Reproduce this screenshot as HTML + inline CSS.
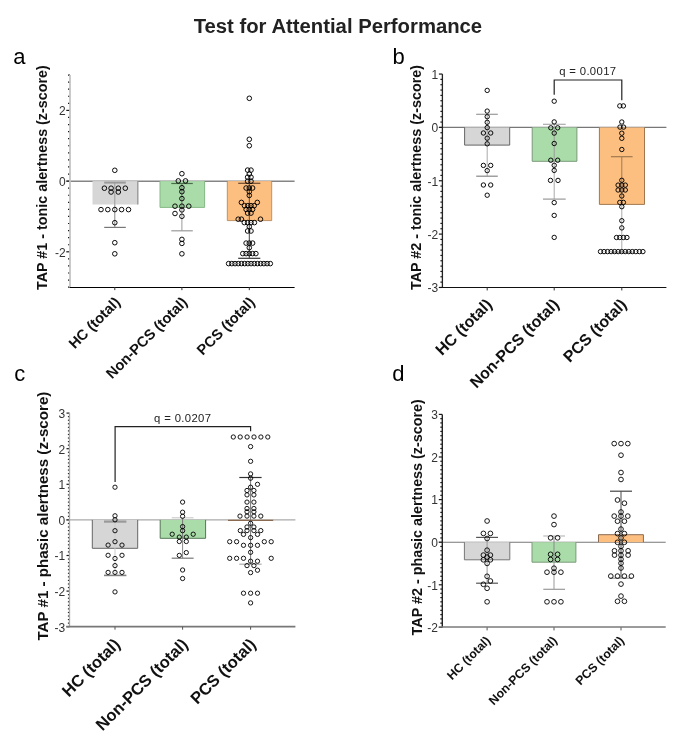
<!DOCTYPE html>
<html><head><meta charset="utf-8"><title>Test for Attential Performance</title><style>html,body{margin:0;padding:0;background:#fff;}svg{display:block;will-change:transform;}text{font-family:"Liberation Sans", sans-serif;}</style></head><body>
<svg width="685" height="751" viewBox="0 0 685 751" font-family='"Liberation Sans", sans-serif'>
<rect width="685" height="751" fill="#fff"/>
<text x="337.9" y="32.6" font-size="20.3" font-weight="bold" text-anchor="middle" fill="#222" >Test for Attential Performance</text>
<text x="13.3" y="63.5" font-size="22" font-weight="normal" text-anchor="start" fill="#000" >a</text>
<text x="392.5" y="63.8" font-size="22" font-weight="normal" text-anchor="start" fill="#000" >b</text>
<text x="14.2" y="380.8" font-size="22" font-weight="normal" text-anchor="start" fill="#000" >c</text>
<text x="392.2" y="380.6" font-size="22" font-weight="normal" text-anchor="start" fill="#000" >d</text>
<line x1="66.5" y1="181.25" x2="294.6" y2="181.25" stroke="#858585" stroke-width="1.3"/>
<rect x="92.5" y="181.1" width="45.3" height="23.4" fill="#d6d6d6" stroke="none" stroke-width="0"/>
<line x1="137.8" y1="181.1" x2="137.8" y2="204.5" stroke="#9a9a9a" stroke-width="1.4"/>
<line x1="114.8" y1="182.6" x2="114.8" y2="204.5" stroke="#9a9a9a" stroke-width="1.0"/>
<line x1="114.8" y1="204.5" x2="114.8" y2="227.4" stroke="#888" stroke-width="1.0"/>
<line x1="104.2" y1="182.6" x2="125.8" y2="182.6" stroke="#9a9a9a" stroke-width="2.0"/>
<line x1="104.2" y1="227.4" x2="125.8" y2="227.4" stroke="#777" stroke-width="1.2"/>
<circle cx="114.8" cy="170.3" r="2.3" fill="none" stroke="#000" stroke-width="0.95"/>
<circle cx="104.4" cy="188.2" r="2.3" fill="none" stroke="#000" stroke-width="0.95"/>
<circle cx="111.1" cy="188.2" r="2.3" fill="none" stroke="#000" stroke-width="0.95"/>
<circle cx="118.3" cy="188.2" r="2.3" fill="none" stroke="#000" stroke-width="0.95"/>
<circle cx="125.3" cy="188.2" r="2.3" fill="none" stroke="#000" stroke-width="0.95"/>
<circle cx="111.1" cy="192" r="2.3" fill="none" stroke="#000" stroke-width="0.95"/>
<circle cx="118.3" cy="192" r="2.3" fill="none" stroke="#000" stroke-width="0.95"/>
<circle cx="101" cy="209.6" r="2.3" fill="none" stroke="#000" stroke-width="0.95"/>
<circle cx="107.8" cy="209.6" r="2.3" fill="none" stroke="#000" stroke-width="0.95"/>
<circle cx="114.8" cy="209.6" r="2.3" fill="none" stroke="#000" stroke-width="0.95"/>
<circle cx="121.6" cy="209.6" r="2.3" fill="none" stroke="#000" stroke-width="0.95"/>
<circle cx="128.5" cy="209.6" r="2.3" fill="none" stroke="#000" stroke-width="0.95"/>
<circle cx="114.8" cy="222.7" r="2.3" fill="none" stroke="#000" stroke-width="0.95"/>
<circle cx="114.8" cy="242.7" r="2.3" fill="none" stroke="#000" stroke-width="0.95"/>
<circle cx="114.8" cy="253.8" r="2.3" fill="none" stroke="#000" stroke-width="0.95"/>
<rect x="160" y="181.1" width="44.6" height="26.3" fill="#aadcaa" stroke="none" stroke-width="0"/>
<line x1="160" y1="181.1" x2="160" y2="207.4" stroke="#86b886" stroke-width="1.0"/>
<line x1="204.6" y1="181.1" x2="204.6" y2="207.4" stroke="#86b886" stroke-width="1.0"/>
<line x1="160" y1="207.4" x2="204.6" y2="207.4" stroke="#86b886" stroke-width="1.0"/>
<line x1="181.9" y1="183.5" x2="181.9" y2="207.4" stroke="#777" stroke-width="1.0"/>
<line x1="181.9" y1="207.4" x2="181.9" y2="230.8" stroke="#9a9a9a" stroke-width="1.0"/>
<line x1="171.3" y1="183.5" x2="192.8" y2="183.5" stroke="#4a6e4a" stroke-width="1.2"/>
<line x1="171.3" y1="230.8" x2="192.8" y2="230.8" stroke="#9a9a9a" stroke-width="1.2"/>
<circle cx="181.9" cy="173.7" r="2.3" fill="none" stroke="#000" stroke-width="0.95"/>
<circle cx="178.3" cy="180.9" r="2.3" fill="none" stroke="#000" stroke-width="0.95"/>
<circle cx="185.5" cy="180.9" r="2.3" fill="none" stroke="#000" stroke-width="0.95"/>
<circle cx="181.9" cy="187.7" r="2.3" fill="none" stroke="#000" stroke-width="0.95"/>
<circle cx="181.9" cy="191.7" r="2.3" fill="none" stroke="#000" stroke-width="0.95"/>
<circle cx="181.9" cy="198.6" r="2.3" fill="none" stroke="#000" stroke-width="0.95"/>
<circle cx="175" cy="206.2" r="2.3" fill="none" stroke="#000" stroke-width="0.95"/>
<circle cx="181.9" cy="206.2" r="2.3" fill="none" stroke="#000" stroke-width="0.95"/>
<circle cx="188.8" cy="206.2" r="2.3" fill="none" stroke="#000" stroke-width="0.95"/>
<circle cx="181.9" cy="209.9" r="2.3" fill="none" stroke="#000" stroke-width="0.95"/>
<circle cx="175" cy="213.5" r="2.3" fill="none" stroke="#000" stroke-width="0.95"/>
<circle cx="181.9" cy="216.3" r="2.3" fill="none" stroke="#000" stroke-width="0.95"/>
<circle cx="181.9" cy="239.4" r="2.3" fill="none" stroke="#000" stroke-width="0.95"/>
<circle cx="181.9" cy="243.4" r="2.3" fill="none" stroke="#000" stroke-width="0.95"/>
<circle cx="181.9" cy="253.8" r="2.3" fill="none" stroke="#000" stroke-width="0.95"/>
<rect x="227.3" y="181.1" width="44.4" height="39.5" fill="#fdbf80" stroke="none" stroke-width="0"/>
<line x1="227.3" y1="181.1" x2="227.3" y2="220.6" stroke="#b08050" stroke-width="0.8"/>
<line x1="271.7" y1="181.1" x2="271.7" y2="220.6" stroke="#b08050" stroke-width="0.8"/>
<line x1="227.3" y1="220.6" x2="271.7" y2="220.6" stroke="#b08050" stroke-width="0.8"/>
<line x1="249.3" y1="183.3" x2="249.3" y2="220.6" stroke="#6b4a30" stroke-width="1.0"/>
<line x1="249.3" y1="220.6" x2="249.3" y2="258.3" stroke="#444" stroke-width="1.0"/>
<line x1="238.2" y1="183.3" x2="260.3" y2="183.3" stroke="#6b4a30" stroke-width="1.2"/>
<line x1="238.2" y1="258.3" x2="260.3" y2="258.3" stroke="#333" stroke-width="1.2"/>
<circle cx="249.3" cy="98.3" r="2.3" fill="none" stroke="#000" stroke-width="0.95"/>
<circle cx="249.3" cy="139.3" r="2.3" fill="none" stroke="#000" stroke-width="0.95"/>
<circle cx="249.3" cy="145.7" r="2.3" fill="none" stroke="#000" stroke-width="0.95"/>
<circle cx="247.6" cy="170.1" r="2.3" fill="none" stroke="#000" stroke-width="0.95"/>
<circle cx="251" cy="170.1" r="2.3" fill="none" stroke="#000" stroke-width="0.95"/>
<circle cx="249.3" cy="174" r="2.3" fill="none" stroke="#000" stroke-width="0.95"/>
<circle cx="247.6" cy="177.2" r="2.3" fill="none" stroke="#000" stroke-width="0.95"/>
<circle cx="251" cy="177.2" r="2.3" fill="none" stroke="#000" stroke-width="0.95"/>
<circle cx="247.6" cy="181.2" r="2.3" fill="none" stroke="#000" stroke-width="0.95"/>
<circle cx="251" cy="181.2" r="2.3" fill="none" stroke="#000" stroke-width="0.95"/>
<circle cx="246.1" cy="188" r="2.3" fill="none" stroke="#000" stroke-width="0.95"/>
<circle cx="249.3" cy="188" r="2.3" fill="none" stroke="#000" stroke-width="0.95"/>
<circle cx="252.6" cy="188" r="2.3" fill="none" stroke="#000" stroke-width="0.95"/>
<circle cx="249.3" cy="191.7" r="2.3" fill="none" stroke="#000" stroke-width="0.95"/>
<circle cx="249.3" cy="195.4" r="2.3" fill="none" stroke="#000" stroke-width="0.95"/>
<circle cx="241.4" cy="202.4" r="2.3" fill="none" stroke="#000" stroke-width="0.95"/>
<circle cx="257.3" cy="202.4" r="2.3" fill="none" stroke="#000" stroke-width="0.95"/>
<circle cx="244.5" cy="205.7" r="2.3" fill="none" stroke="#000" stroke-width="0.95"/>
<circle cx="247.8" cy="205.7" r="2.3" fill="none" stroke="#000" stroke-width="0.95"/>
<circle cx="251" cy="205.7" r="2.3" fill="none" stroke="#000" stroke-width="0.95"/>
<circle cx="254.2" cy="205.7" r="2.3" fill="none" stroke="#000" stroke-width="0.95"/>
<circle cx="246.1" cy="209.4" r="2.3" fill="none" stroke="#000" stroke-width="0.95"/>
<circle cx="249.3" cy="209.4" r="2.3" fill="none" stroke="#000" stroke-width="0.95"/>
<circle cx="252.6" cy="209.4" r="2.3" fill="none" stroke="#000" stroke-width="0.95"/>
<circle cx="247.6" cy="213.1" r="2.3" fill="none" stroke="#000" stroke-width="0.95"/>
<circle cx="251" cy="213.1" r="2.3" fill="none" stroke="#000" stroke-width="0.95"/>
<circle cx="238.2" cy="219.2" r="2.3" fill="none" stroke="#000" stroke-width="0.95"/>
<circle cx="241.4" cy="219.2" r="2.3" fill="none" stroke="#000" stroke-width="0.95"/>
<circle cx="260.5" cy="219.2" r="2.3" fill="none" stroke="#000" stroke-width="0.95"/>
<circle cx="244.3" cy="222.6" r="2.3" fill="none" stroke="#000" stroke-width="0.95"/>
<circle cx="247.6" cy="222.6" r="2.3" fill="none" stroke="#000" stroke-width="0.95"/>
<circle cx="251" cy="222.6" r="2.3" fill="none" stroke="#000" stroke-width="0.95"/>
<circle cx="254.4" cy="222.6" r="2.3" fill="none" stroke="#000" stroke-width="0.95"/>
<circle cx="249.3" cy="226.6" r="2.3" fill="none" stroke="#000" stroke-width="0.95"/>
<circle cx="247.6" cy="231" r="2.3" fill="none" stroke="#000" stroke-width="0.95"/>
<circle cx="251" cy="231" r="2.3" fill="none" stroke="#000" stroke-width="0.95"/>
<circle cx="246.1" cy="243.1" r="2.3" fill="none" stroke="#000" stroke-width="0.95"/>
<circle cx="249.3" cy="243.1" r="2.3" fill="none" stroke="#000" stroke-width="0.95"/>
<circle cx="252.6" cy="243.1" r="2.3" fill="none" stroke="#000" stroke-width="0.95"/>
<circle cx="249.3" cy="247.7" r="2.3" fill="none" stroke="#000" stroke-width="0.95"/>
<circle cx="242.8" cy="253.6" r="2.3" fill="none" stroke="#000" stroke-width="0.95"/>
<circle cx="246.1" cy="253.6" r="2.3" fill="none" stroke="#000" stroke-width="0.95"/>
<circle cx="249.3" cy="253.6" r="2.3" fill="none" stroke="#000" stroke-width="0.95"/>
<circle cx="252.6" cy="253.6" r="2.3" fill="none" stroke="#000" stroke-width="0.95"/>
<circle cx="255.9" cy="253.6" r="2.3" fill="none" stroke="#000" stroke-width="0.95"/>
<circle cx="228.6" cy="263.6" r="2.3" fill="none" stroke="#000" stroke-width="0.95"/>
<circle cx="231.81" cy="263.6" r="2.3" fill="none" stroke="#000" stroke-width="0.95"/>
<circle cx="235.02" cy="263.6" r="2.3" fill="none" stroke="#000" stroke-width="0.95"/>
<circle cx="238.22" cy="263.6" r="2.3" fill="none" stroke="#000" stroke-width="0.95"/>
<circle cx="241.43" cy="263.6" r="2.3" fill="none" stroke="#000" stroke-width="0.95"/>
<circle cx="244.64" cy="263.6" r="2.3" fill="none" stroke="#000" stroke-width="0.95"/>
<circle cx="247.85" cy="263.6" r="2.3" fill="none" stroke="#000" stroke-width="0.95"/>
<circle cx="251.05" cy="263.6" r="2.3" fill="none" stroke="#000" stroke-width="0.95"/>
<circle cx="254.26" cy="263.6" r="2.3" fill="none" stroke="#000" stroke-width="0.95"/>
<circle cx="257.47" cy="263.6" r="2.3" fill="none" stroke="#000" stroke-width="0.95"/>
<circle cx="260.68" cy="263.6" r="2.3" fill="none" stroke="#000" stroke-width="0.95"/>
<circle cx="263.88" cy="263.6" r="2.3" fill="none" stroke="#000" stroke-width="0.95"/>
<circle cx="267.09" cy="263.6" r="2.3" fill="none" stroke="#000" stroke-width="0.95"/>
<circle cx="270.3" cy="263.6" r="2.3" fill="none" stroke="#000" stroke-width="0.95"/>
<line x1="68" y1="287.15" x2="70" y2="287.15" stroke="#1a1a1a" stroke-width="1.2"/>
<line x1="68" y1="280.08" x2="70" y2="280.08" stroke="#1a1a1a" stroke-width="1.2"/>
<line x1="68" y1="273.01" x2="70" y2="273.01" stroke="#1a1a1a" stroke-width="1.2"/>
<line x1="68" y1="265.94" x2="70" y2="265.94" stroke="#1a1a1a" stroke-width="1.2"/>
<line x1="68" y1="258.87" x2="70" y2="258.87" stroke="#1a1a1a" stroke-width="1.2"/>
<line x1="66.3" y1="251.8" x2="70" y2="251.8" stroke="#1a1a1a" stroke-width="1.2"/>
<line x1="68" y1="244.73" x2="70" y2="244.73" stroke="#1a1a1a" stroke-width="1.2"/>
<line x1="68" y1="237.66" x2="70" y2="237.66" stroke="#1a1a1a" stroke-width="1.2"/>
<line x1="68" y1="230.59" x2="70" y2="230.59" stroke="#1a1a1a" stroke-width="1.2"/>
<line x1="68" y1="223.52" x2="70" y2="223.52" stroke="#1a1a1a" stroke-width="1.2"/>
<line x1="68" y1="216.45" x2="70" y2="216.45" stroke="#1a1a1a" stroke-width="1.2"/>
<line x1="68" y1="209.38" x2="70" y2="209.38" stroke="#1a1a1a" stroke-width="1.2"/>
<line x1="68" y1="202.31" x2="70" y2="202.31" stroke="#1a1a1a" stroke-width="1.2"/>
<line x1="68" y1="195.24" x2="70" y2="195.24" stroke="#1a1a1a" stroke-width="1.2"/>
<line x1="68" y1="188.17" x2="70" y2="188.17" stroke="#1a1a1a" stroke-width="1.2"/>
<line x1="66.3" y1="181.1" x2="70" y2="181.1" stroke="#1a1a1a" stroke-width="1.2"/>
<line x1="68" y1="174.03" x2="70" y2="174.03" stroke="#1a1a1a" stroke-width="1.2"/>
<line x1="68" y1="166.96" x2="70" y2="166.96" stroke="#1a1a1a" stroke-width="1.2"/>
<line x1="68" y1="159.89" x2="70" y2="159.89" stroke="#1a1a1a" stroke-width="1.2"/>
<line x1="68" y1="152.82" x2="70" y2="152.82" stroke="#1a1a1a" stroke-width="1.2"/>
<line x1="68" y1="145.75" x2="70" y2="145.75" stroke="#1a1a1a" stroke-width="1.2"/>
<line x1="68" y1="138.68" x2="70" y2="138.68" stroke="#1a1a1a" stroke-width="1.2"/>
<line x1="68" y1="131.61" x2="70" y2="131.61" stroke="#1a1a1a" stroke-width="1.2"/>
<line x1="68" y1="124.54" x2="70" y2="124.54" stroke="#1a1a1a" stroke-width="1.2"/>
<line x1="68" y1="117.47" x2="70" y2="117.47" stroke="#1a1a1a" stroke-width="1.2"/>
<line x1="66.3" y1="110.4" x2="70" y2="110.4" stroke="#1a1a1a" stroke-width="1.2"/>
<line x1="68" y1="103.33" x2="70" y2="103.33" stroke="#1a1a1a" stroke-width="1.2"/>
<line x1="68" y1="96.26" x2="70" y2="96.26" stroke="#1a1a1a" stroke-width="1.2"/>
<line x1="68" y1="89.19" x2="70" y2="89.19" stroke="#1a1a1a" stroke-width="1.2"/>
<line x1="68" y1="82.12" x2="70" y2="82.12" stroke="#1a1a1a" stroke-width="1.2"/>
<line x1="68" y1="75.05" x2="70" y2="75.05" stroke="#1a1a1a" stroke-width="1.2"/>
<line x1="70" y1="75.05" x2="70" y2="287.15" stroke="#c4c4c4" stroke-width="1.8"/>
<text x="65.7" y="115.2" font-size="12" font-weight="normal" text-anchor="end" fill="#333" >2</text>
<text x="65.7" y="185.9" font-size="12" font-weight="normal" text-anchor="end" fill="#333" >0</text>
<text x="65.7" y="256.6" font-size="12" font-weight="normal" text-anchor="end" fill="#333" >-2</text>
<line x1="70" y1="287.5" x2="294.6" y2="287.5" stroke="#000" stroke-width="1.1"/>
<line x1="114.8" y1="287.15" x2="114.8" y2="290.15" stroke="#333" stroke-width="1"/>
<line x1="181.9" y1="287.15" x2="181.9" y2="290.15" stroke="#333" stroke-width="1"/>
<line x1="249.3" y1="287.15" x2="249.3" y2="290.15" stroke="#333" stroke-width="1"/>
<text transform="translate(46.9,177.6) rotate(-90)" font-size="14.33" font-weight="bold" text-anchor="middle" fill="#111">TAP #1 - tonic alertness (z-score)</text>
<text transform="translate(121.1,303.15) rotate(-45)" font-size="14.6" font-weight="bold" text-anchor="end" fill="#111">HC (total)</text>
<text transform="translate(188.2,303.15) rotate(-45)" font-size="14.6" font-weight="bold" text-anchor="end" fill="#111">Non-PCS (total)</text>
<text transform="translate(255.6,303.15) rotate(-45)" font-size="14.6" font-weight="bold" text-anchor="end" fill="#111">PCS (total)</text>
<line x1="438.9" y1="127.4" x2="666.4" y2="127.4" stroke="#777" stroke-width="1.1"/>
<rect x="464.6" y="127.4" width="45.1" height="17.7" fill="#d6d6d6" stroke="none" stroke-width="0"/>
<line x1="464.6" y1="127.4" x2="464.6" y2="145.1" stroke="#666" stroke-width="1.0"/>
<line x1="509.7" y1="127.4" x2="509.7" y2="145.1" stroke="#666" stroke-width="1.0"/>
<line x1="464.6" y1="145.1" x2="509.7" y2="145.1" stroke="#666" stroke-width="1.0"/>
<line x1="487.2" y1="114.3" x2="487.2" y2="145.1" stroke="#999" stroke-width="1.0"/>
<line x1="487.2" y1="145.1" x2="487.2" y2="176.2" stroke="#aaa" stroke-width="1.0"/>
<line x1="476.2" y1="114.3" x2="497.8" y2="114.3" stroke="#999" stroke-width="1.2"/>
<line x1="476.2" y1="176.2" x2="497.8" y2="176.2" stroke="#888" stroke-width="1.2"/>
<circle cx="487.2" cy="90.4" r="2.2" fill="none" stroke="#000" stroke-width="0.95"/>
<circle cx="487.2" cy="111.1" r="2.2" fill="none" stroke="#000" stroke-width="0.95"/>
<circle cx="487.2" cy="116.7" r="2.2" fill="none" stroke="#000" stroke-width="0.95"/>
<circle cx="487.2" cy="122.3" r="2.2" fill="none" stroke="#000" stroke-width="0.95"/>
<circle cx="487.2" cy="127.6" r="2.2" fill="none" stroke="#000" stroke-width="0.95"/>
<circle cx="483.4" cy="133" r="2.2" fill="none" stroke="#000" stroke-width="0.95"/>
<circle cx="490.7" cy="133" r="2.2" fill="none" stroke="#000" stroke-width="0.95"/>
<circle cx="487.2" cy="138.2" r="2.2" fill="none" stroke="#000" stroke-width="0.95"/>
<circle cx="487.2" cy="143.8" r="2.2" fill="none" stroke="#000" stroke-width="0.95"/>
<circle cx="483.4" cy="165.4" r="2.2" fill="none" stroke="#000" stroke-width="0.95"/>
<circle cx="490.7" cy="165.4" r="2.2" fill="none" stroke="#000" stroke-width="0.95"/>
<circle cx="487.2" cy="170.6" r="2.2" fill="none" stroke="#000" stroke-width="0.95"/>
<circle cx="483.4" cy="185" r="2.2" fill="none" stroke="#000" stroke-width="0.95"/>
<circle cx="490.7" cy="185" r="2.2" fill="none" stroke="#000" stroke-width="0.95"/>
<circle cx="487.2" cy="195.2" r="2.2" fill="none" stroke="#000" stroke-width="0.95"/>
<rect x="532.2" y="127.4" width="44.7" height="33.9" fill="#aadcaa" stroke="none" stroke-width="0"/>
<line x1="532.2" y1="127.4" x2="532.2" y2="161.3" stroke="#7a9a7a" stroke-width="1.0"/>
<line x1="576.9" y1="127.4" x2="576.9" y2="161.3" stroke="#7a9a7a" stroke-width="1.0"/>
<line x1="532.2" y1="161.3" x2="576.9" y2="161.3" stroke="#7a9a7a" stroke-width="1.0"/>
<line x1="554.2" y1="124.3" x2="554.2" y2="161.3" stroke="#999" stroke-width="1.0"/>
<line x1="554.2" y1="161.3" x2="554.2" y2="199.1" stroke="#aaa" stroke-width="1.0"/>
<line x1="543" y1="124.3" x2="565.7" y2="124.3" stroke="#aaa" stroke-width="1.2"/>
<line x1="543" y1="199.1" x2="565.7" y2="199.1" stroke="#999" stroke-width="1.2"/>
<circle cx="554.2" cy="101.2" r="2.2" fill="none" stroke="#000" stroke-width="0.95"/>
<circle cx="554.2" cy="121.9" r="2.2" fill="none" stroke="#000" stroke-width="0.95"/>
<circle cx="550.8" cy="127.8" r="2.2" fill="none" stroke="#000" stroke-width="0.95"/>
<circle cx="557.7" cy="127.8" r="2.2" fill="none" stroke="#000" stroke-width="0.95"/>
<circle cx="554.2" cy="133.1" r="2.2" fill="none" stroke="#000" stroke-width="0.95"/>
<circle cx="554.2" cy="143.5" r="2.2" fill="none" stroke="#000" stroke-width="0.95"/>
<circle cx="550.8" cy="160.2" r="2.2" fill="none" stroke="#000" stroke-width="0.95"/>
<circle cx="557.7" cy="160.2" r="2.2" fill="none" stroke="#000" stroke-width="0.95"/>
<circle cx="554.2" cy="165.3" r="2.2" fill="none" stroke="#000" stroke-width="0.95"/>
<circle cx="554.2" cy="170.4" r="2.2" fill="none" stroke="#000" stroke-width="0.95"/>
<circle cx="550.5" cy="180.4" r="2.2" fill="none" stroke="#000" stroke-width="0.95"/>
<circle cx="558" cy="180.4" r="2.2" fill="none" stroke="#000" stroke-width="0.95"/>
<circle cx="554.2" cy="202.6" r="2.2" fill="none" stroke="#000" stroke-width="0.95"/>
<circle cx="554.2" cy="215.4" r="2.2" fill="none" stroke="#000" stroke-width="0.95"/>
<circle cx="554.2" cy="237.4" r="2.2" fill="none" stroke="#000" stroke-width="0.95"/>
<rect x="599.4" y="127.4" width="45.1" height="77" fill="#fdbf80" stroke="none" stroke-width="0"/>
<line x1="599.4" y1="127.4" x2="599.4" y2="204.4" stroke="#a07850" stroke-width="1.0"/>
<line x1="644.5" y1="127.4" x2="644.5" y2="204.4" stroke="#a07850" stroke-width="1.0"/>
<line x1="599.4" y1="204.4" x2="644.5" y2="204.4" stroke="#a07850" stroke-width="1.0"/>
<line x1="621.8" y1="156.7" x2="621.8" y2="204.4" stroke="#a07850" stroke-width="1.0"/>
<line x1="621.8" y1="204.4" x2="621.8" y2="252.1" stroke="#aaa" stroke-width="1.0"/>
<line x1="610.9" y1="156.7" x2="632.6" y2="156.7" stroke="#a07850" stroke-width="1.2"/>
<line x1="610.9" y1="252.1" x2="632.6" y2="252.1" stroke="#999" stroke-width="1.2"/>
<circle cx="619.8" cy="105.9" r="2.2" fill="none" stroke="#000" stroke-width="0.95"/>
<circle cx="623.4" cy="105.9" r="2.2" fill="none" stroke="#000" stroke-width="0.95"/>
<circle cx="621.8" cy="122" r="2.2" fill="none" stroke="#000" stroke-width="0.95"/>
<circle cx="620" cy="127.1" r="2.2" fill="none" stroke="#000" stroke-width="0.95"/>
<circle cx="623.6" cy="127.1" r="2.2" fill="none" stroke="#000" stroke-width="0.95"/>
<circle cx="621.8" cy="133.2" r="2.2" fill="none" stroke="#000" stroke-width="0.95"/>
<circle cx="621.8" cy="138.3" r="2.2" fill="none" stroke="#000" stroke-width="0.95"/>
<circle cx="621.8" cy="149.5" r="2.2" fill="none" stroke="#000" stroke-width="0.95"/>
<circle cx="621.8" cy="180.3" r="2.2" fill="none" stroke="#000" stroke-width="0.95"/>
<circle cx="618.1" cy="185.1" r="2.2" fill="none" stroke="#000" stroke-width="0.95"/>
<circle cx="621.8" cy="185.1" r="2.2" fill="none" stroke="#000" stroke-width="0.95"/>
<circle cx="625.3" cy="185.1" r="2.2" fill="none" stroke="#000" stroke-width="0.95"/>
<circle cx="618.1" cy="190" r="2.2" fill="none" stroke="#000" stroke-width="0.95"/>
<circle cx="621.8" cy="190" r="2.2" fill="none" stroke="#000" stroke-width="0.95"/>
<circle cx="625.3" cy="190" r="2.2" fill="none" stroke="#000" stroke-width="0.95"/>
<circle cx="621.8" cy="196" r="2.2" fill="none" stroke="#000" stroke-width="0.95"/>
<circle cx="619.8" cy="202.4" r="2.2" fill="none" stroke="#000" stroke-width="0.95"/>
<circle cx="623.4" cy="202.4" r="2.2" fill="none" stroke="#000" stroke-width="0.95"/>
<circle cx="621.8" cy="206.7" r="2.2" fill="none" stroke="#000" stroke-width="0.95"/>
<circle cx="621.8" cy="220.7" r="2.2" fill="none" stroke="#000" stroke-width="0.95"/>
<circle cx="621.8" cy="227.9" r="2.2" fill="none" stroke="#000" stroke-width="0.95"/>
<circle cx="616.5" cy="237.5" r="2.2" fill="none" stroke="#000" stroke-width="0.95"/>
<circle cx="619.8" cy="237.5" r="2.2" fill="none" stroke="#000" stroke-width="0.95"/>
<circle cx="623.4" cy="237.5" r="2.2" fill="none" stroke="#000" stroke-width="0.95"/>
<circle cx="626.9" cy="237.5" r="2.2" fill="none" stroke="#000" stroke-width="0.95"/>
<circle cx="600.5" cy="251.6" r="2.2" fill="none" stroke="#000" stroke-width="0.95"/>
<circle cx="604.03" cy="251.6" r="2.2" fill="none" stroke="#000" stroke-width="0.95"/>
<circle cx="607.57" cy="251.6" r="2.2" fill="none" stroke="#000" stroke-width="0.95"/>
<circle cx="611.1" cy="251.6" r="2.2" fill="none" stroke="#000" stroke-width="0.95"/>
<circle cx="614.63" cy="251.6" r="2.2" fill="none" stroke="#000" stroke-width="0.95"/>
<circle cx="618.17" cy="251.6" r="2.2" fill="none" stroke="#000" stroke-width="0.95"/>
<circle cx="621.7" cy="251.6" r="2.2" fill="none" stroke="#000" stroke-width="0.95"/>
<circle cx="625.23" cy="251.6" r="2.2" fill="none" stroke="#000" stroke-width="0.95"/>
<circle cx="628.77" cy="251.6" r="2.2" fill="none" stroke="#000" stroke-width="0.95"/>
<circle cx="632.3" cy="251.6" r="2.2" fill="none" stroke="#000" stroke-width="0.95"/>
<circle cx="635.83" cy="251.6" r="2.2" fill="none" stroke="#000" stroke-width="0.95"/>
<circle cx="639.37" cy="251.6" r="2.2" fill="none" stroke="#000" stroke-width="0.95"/>
<circle cx="642.9" cy="251.6" r="2.2" fill="none" stroke="#000" stroke-width="0.95"/>
<line x1="438.9" y1="287.45" x2="442.4" y2="287.45" stroke="#1a1a1a" stroke-width="1.2"/>
<line x1="440.4" y1="282.12" x2="442.4" y2="282.12" stroke="#1a1a1a" stroke-width="1.2"/>
<line x1="440.4" y1="276.78" x2="442.4" y2="276.78" stroke="#1a1a1a" stroke-width="1.2"/>
<line x1="440.4" y1="271.45" x2="442.4" y2="271.45" stroke="#1a1a1a" stroke-width="1.2"/>
<line x1="440.4" y1="266.11" x2="442.4" y2="266.11" stroke="#1a1a1a" stroke-width="1.2"/>
<line x1="440.4" y1="260.77" x2="442.4" y2="260.77" stroke="#1a1a1a" stroke-width="1.2"/>
<line x1="440.4" y1="255.44" x2="442.4" y2="255.44" stroke="#1a1a1a" stroke-width="1.2"/>
<line x1="440.4" y1="250.11" x2="442.4" y2="250.11" stroke="#1a1a1a" stroke-width="1.2"/>
<line x1="440.4" y1="244.77" x2="442.4" y2="244.77" stroke="#1a1a1a" stroke-width="1.2"/>
<line x1="440.4" y1="239.44" x2="442.4" y2="239.44" stroke="#1a1a1a" stroke-width="1.2"/>
<line x1="438.9" y1="234.1" x2="442.4" y2="234.1" stroke="#1a1a1a" stroke-width="1.2"/>
<line x1="440.4" y1="228.76" x2="442.4" y2="228.76" stroke="#1a1a1a" stroke-width="1.2"/>
<line x1="440.4" y1="223.43" x2="442.4" y2="223.43" stroke="#1a1a1a" stroke-width="1.2"/>
<line x1="440.4" y1="218.09" x2="442.4" y2="218.09" stroke="#1a1a1a" stroke-width="1.2"/>
<line x1="440.4" y1="212.76" x2="442.4" y2="212.76" stroke="#1a1a1a" stroke-width="1.2"/>
<line x1="440.4" y1="207.43" x2="442.4" y2="207.43" stroke="#1a1a1a" stroke-width="1.2"/>
<line x1="440.4" y1="202.09" x2="442.4" y2="202.09" stroke="#1a1a1a" stroke-width="1.2"/>
<line x1="440.4" y1="196.75" x2="442.4" y2="196.75" stroke="#1a1a1a" stroke-width="1.2"/>
<line x1="440.4" y1="191.42" x2="442.4" y2="191.42" stroke="#1a1a1a" stroke-width="1.2"/>
<line x1="440.4" y1="186.09" x2="442.4" y2="186.09" stroke="#1a1a1a" stroke-width="1.2"/>
<line x1="438.9" y1="180.75" x2="442.4" y2="180.75" stroke="#1a1a1a" stroke-width="1.2"/>
<line x1="440.4" y1="175.41" x2="442.4" y2="175.41" stroke="#1a1a1a" stroke-width="1.2"/>
<line x1="440.4" y1="170.08" x2="442.4" y2="170.08" stroke="#1a1a1a" stroke-width="1.2"/>
<line x1="440.4" y1="164.75" x2="442.4" y2="164.75" stroke="#1a1a1a" stroke-width="1.2"/>
<line x1="440.4" y1="159.41" x2="442.4" y2="159.41" stroke="#1a1a1a" stroke-width="1.2"/>
<line x1="440.4" y1="154.08" x2="442.4" y2="154.08" stroke="#1a1a1a" stroke-width="1.2"/>
<line x1="440.4" y1="148.74" x2="442.4" y2="148.74" stroke="#1a1a1a" stroke-width="1.2"/>
<line x1="440.4" y1="143.41" x2="442.4" y2="143.41" stroke="#1a1a1a" stroke-width="1.2"/>
<line x1="440.4" y1="138.07" x2="442.4" y2="138.07" stroke="#1a1a1a" stroke-width="1.2"/>
<line x1="440.4" y1="132.73" x2="442.4" y2="132.73" stroke="#1a1a1a" stroke-width="1.2"/>
<line x1="438.9" y1="127.4" x2="442.4" y2="127.4" stroke="#1a1a1a" stroke-width="1.2"/>
<line x1="440.4" y1="122.06" x2="442.4" y2="122.06" stroke="#1a1a1a" stroke-width="1.2"/>
<line x1="440.4" y1="116.73" x2="442.4" y2="116.73" stroke="#1a1a1a" stroke-width="1.2"/>
<line x1="440.4" y1="111.39" x2="442.4" y2="111.39" stroke="#1a1a1a" stroke-width="1.2"/>
<line x1="440.4" y1="106.06" x2="442.4" y2="106.06" stroke="#1a1a1a" stroke-width="1.2"/>
<line x1="440.4" y1="100.73" x2="442.4" y2="100.73" stroke="#1a1a1a" stroke-width="1.2"/>
<line x1="440.4" y1="95.39" x2="442.4" y2="95.39" stroke="#1a1a1a" stroke-width="1.2"/>
<line x1="440.4" y1="90.05" x2="442.4" y2="90.05" stroke="#1a1a1a" stroke-width="1.2"/>
<line x1="440.4" y1="84.72" x2="442.4" y2="84.72" stroke="#1a1a1a" stroke-width="1.2"/>
<line x1="440.4" y1="79.38" x2="442.4" y2="79.38" stroke="#1a1a1a" stroke-width="1.2"/>
<line x1="438.9" y1="74.05" x2="442.4" y2="74.05" stroke="#1a1a1a" stroke-width="1.2"/>
<line x1="442.4" y1="74.05" x2="442.4" y2="287.45" stroke="#222" stroke-width="1.3"/>
<text x="438.1" y="78.85" font-size="12" font-weight="normal" text-anchor="end" fill="#333" >1</text>
<text x="438.1" y="132.2" font-size="12" font-weight="normal" text-anchor="end" fill="#333" >0</text>
<text x="438.1" y="185.55" font-size="12" font-weight="normal" text-anchor="end" fill="#333" >-1</text>
<text x="438.1" y="238.9" font-size="12" font-weight="normal" text-anchor="end" fill="#333" >-2</text>
<text x="438.1" y="292.25" font-size="12" font-weight="normal" text-anchor="end" fill="#333" >-3</text>
<line x1="438.9" y1="287.45" x2="666.4" y2="287.45" stroke="#111" stroke-width="1.1"/>
<line x1="487.2" y1="287.45" x2="487.2" y2="290.45" stroke="#333" stroke-width="1"/>
<line x1="554.2" y1="287.45" x2="554.2" y2="290.45" stroke="#333" stroke-width="1"/>
<line x1="621.8" y1="287.45" x2="621.8" y2="290.45" stroke="#333" stroke-width="1"/>
<polyline points="554.2,94.8 554.2,80 621.8,80 621.8,100.3" fill="none" stroke="#222" stroke-width="1.2"/>
<text x="587.8" y="74.7" font-size="11.3" font-weight="normal" text-anchor="middle" fill="#222" letter-spacing="0.35">q = 0.0017</text>
<text transform="translate(421.3,177.5) rotate(-90)" font-size="14.35" font-weight="bold" text-anchor="middle" fill="#111">TAP #2 - tonic alertness (z-score)</text>
<text transform="translate(493,305.45) rotate(-45)" font-size="16" font-weight="bold" text-anchor="end" fill="#111">HC (total)</text>
<text transform="translate(560,305.45) rotate(-45)" font-size="16" font-weight="bold" text-anchor="end" fill="#111">Non-PCS (total)</text>
<text transform="translate(627.6,305.45) rotate(-45)" font-size="16" font-weight="bold" text-anchor="end" fill="#111">PCS (total)</text>
<line x1="66" y1="519.9" x2="295.4" y2="519.9" stroke="#aaa" stroke-width="1.3"/>
<rect x="92.3" y="519.9" width="45.4" height="28.4" fill="#d6d6d6" stroke="none" stroke-width="0"/>
<line x1="92.3" y1="519.9" x2="92.3" y2="548.3" stroke="#666" stroke-width="1.0"/>
<line x1="137.7" y1="519.9" x2="137.7" y2="548.3" stroke="#666" stroke-width="1.0"/>
<line x1="92.3" y1="548.3" x2="137.7" y2="548.3" stroke="#666" stroke-width="1.0"/>
<line x1="115" y1="521.6" x2="115" y2="548.3" stroke="#ccc" stroke-width="1.0"/>
<line x1="115" y1="548.3" x2="115" y2="575.4" stroke="#ccc" stroke-width="1.0"/>
<line x1="104" y1="521.6" x2="126.4" y2="521.6" stroke="#999" stroke-width="2.2"/>
<line x1="104" y1="575.4" x2="126.4" y2="575.4" stroke="#808080" stroke-width="1.6"/>
<circle cx="115" cy="487.2" r="2.15" fill="none" stroke="#000" stroke-width="0.9"/>
<circle cx="115" cy="515.8" r="2.15" fill="none" stroke="#000" stroke-width="0.9"/>
<circle cx="115" cy="519.8" r="2.15" fill="none" stroke="#000" stroke-width="0.9"/>
<circle cx="115" cy="530.7" r="2.15" fill="none" stroke="#000" stroke-width="0.9"/>
<circle cx="115" cy="541.7" r="2.15" fill="none" stroke="#000" stroke-width="0.9"/>
<circle cx="108.1" cy="545.1" r="2.15" fill="none" stroke="#000" stroke-width="0.9"/>
<circle cx="122" cy="545.1" r="2.15" fill="none" stroke="#000" stroke-width="0.9"/>
<circle cx="108.1" cy="555.3" r="2.15" fill="none" stroke="#000" stroke-width="0.9"/>
<circle cx="122" cy="555.3" r="2.15" fill="none" stroke="#000" stroke-width="0.9"/>
<circle cx="115" cy="558.5" r="2.15" fill="none" stroke="#000" stroke-width="0.9"/>
<circle cx="115" cy="565.6" r="2.15" fill="none" stroke="#000" stroke-width="0.9"/>
<circle cx="108.1" cy="572.4" r="2.15" fill="none" stroke="#000" stroke-width="0.9"/>
<circle cx="115" cy="572.4" r="2.15" fill="none" stroke="#000" stroke-width="0.9"/>
<circle cx="122" cy="572.4" r="2.15" fill="none" stroke="#000" stroke-width="0.9"/>
<circle cx="115" cy="591.9" r="2.15" fill="none" stroke="#000" stroke-width="0.9"/>
<rect x="160.2" y="519.9" width="45.4" height="18.4" fill="#aadcaa" stroke="none" stroke-width="0"/>
<line x1="160.2" y1="519.9" x2="160.2" y2="538.3" stroke="#557755" stroke-width="1.0"/>
<line x1="205.6" y1="519.9" x2="205.6" y2="538.3" stroke="#557755" stroke-width="1.0"/>
<line x1="160.2" y1="538.3" x2="205.6" y2="538.3" stroke="#557755" stroke-width="1.0"/>
<line x1="182.6" y1="517.8" x2="182.6" y2="538.3" stroke="#777" stroke-width="1.0"/>
<line x1="182.6" y1="538.3" x2="182.6" y2="558.2" stroke="#888" stroke-width="1.0"/>
<line x1="171.7" y1="517.8" x2="193.6" y2="517.8" stroke="#ccc" stroke-width="1.2"/>
<line x1="171.7" y1="558.2" x2="193.6" y2="558.2" stroke="#777" stroke-width="1.2"/>
<circle cx="182.6" cy="502.1" r="2.15" fill="none" stroke="#000" stroke-width="0.9"/>
<circle cx="182.6" cy="512.2" r="2.15" fill="none" stroke="#000" stroke-width="0.9"/>
<circle cx="182.6" cy="516.3" r="2.15" fill="none" stroke="#000" stroke-width="0.9"/>
<circle cx="182.6" cy="526.6" r="2.15" fill="none" stroke="#000" stroke-width="0.9"/>
<circle cx="182.6" cy="530.7" r="2.15" fill="none" stroke="#000" stroke-width="0.9"/>
<circle cx="172.2" cy="534.2" r="2.15" fill="none" stroke="#000" stroke-width="0.9"/>
<circle cx="193.2" cy="534.2" r="2.15" fill="none" stroke="#000" stroke-width="0.9"/>
<circle cx="179.3" cy="537.1" r="2.15" fill="none" stroke="#000" stroke-width="0.9"/>
<circle cx="186.3" cy="537.1" r="2.15" fill="none" stroke="#000" stroke-width="0.9"/>
<circle cx="179.3" cy="541.5" r="2.15" fill="none" stroke="#000" stroke-width="0.9"/>
<circle cx="186.3" cy="541.5" r="2.15" fill="none" stroke="#000" stroke-width="0.9"/>
<circle cx="186.3" cy="552.6" r="2.15" fill="none" stroke="#000" stroke-width="0.9"/>
<circle cx="179.3" cy="555.4" r="2.15" fill="none" stroke="#000" stroke-width="0.9"/>
<circle cx="182.6" cy="570" r="2.15" fill="none" stroke="#000" stroke-width="0.9"/>
<circle cx="182.6" cy="578.5" r="2.15" fill="none" stroke="#000" stroke-width="0.9"/>
<rect x="228" y="519.9" width="45.2" height="0.4" fill="#fdbf80" stroke="none" stroke-width="0"/>
<line x1="228" y1="520.3" x2="273.2" y2="520.3" stroke="#8a6a50" stroke-width="1.2"/>
<line x1="250.6" y1="477.5" x2="250.6" y2="520.3" stroke="#777" stroke-width="1.0"/>
<line x1="250.6" y1="520.3" x2="250.6" y2="564.2" stroke="#777" stroke-width="1.0"/>
<line x1="239.3" y1="477.5" x2="261.6" y2="477.5" stroke="#333" stroke-width="1.2"/>
<line x1="239.3" y1="564.2" x2="261.6" y2="564.2" stroke="#aaa" stroke-width="1.2"/>
<circle cx="233.3" cy="437" r="2.15" fill="none" stroke="#000" stroke-width="0.9"/>
<circle cx="240.2" cy="437" r="2.15" fill="none" stroke="#000" stroke-width="0.9"/>
<circle cx="247.1" cy="437" r="2.15" fill="none" stroke="#000" stroke-width="0.9"/>
<circle cx="254" cy="437" r="2.15" fill="none" stroke="#000" stroke-width="0.9"/>
<circle cx="260.9" cy="437" r="2.15" fill="none" stroke="#000" stroke-width="0.9"/>
<circle cx="267.8" cy="437" r="2.15" fill="none" stroke="#000" stroke-width="0.9"/>
<circle cx="250.6" cy="446.6" r="2.15" fill="none" stroke="#000" stroke-width="0.9"/>
<circle cx="250.6" cy="461.3" r="2.15" fill="none" stroke="#000" stroke-width="0.9"/>
<circle cx="250.6" cy="473.9" r="2.15" fill="none" stroke="#000" stroke-width="0.9"/>
<circle cx="250.6" cy="478.2" r="2.15" fill="none" stroke="#000" stroke-width="0.9"/>
<circle cx="257.5" cy="484.3" r="2.15" fill="none" stroke="#000" stroke-width="0.9"/>
<circle cx="250.6" cy="487.2" r="2.15" fill="none" stroke="#000" stroke-width="0.9"/>
<circle cx="247" cy="490.5" r="2.15" fill="none" stroke="#000" stroke-width="0.9"/>
<circle cx="253.9" cy="490.5" r="2.15" fill="none" stroke="#000" stroke-width="0.9"/>
<circle cx="247" cy="494.9" r="2.15" fill="none" stroke="#000" stroke-width="0.9"/>
<circle cx="253.9" cy="494.9" r="2.15" fill="none" stroke="#000" stroke-width="0.9"/>
<circle cx="247" cy="502.1" r="2.15" fill="none" stroke="#000" stroke-width="0.9"/>
<circle cx="253.9" cy="502.1" r="2.15" fill="none" stroke="#000" stroke-width="0.9"/>
<circle cx="247" cy="508.5" r="2.15" fill="none" stroke="#000" stroke-width="0.9"/>
<circle cx="253.9" cy="508.5" r="2.15" fill="none" stroke="#000" stroke-width="0.9"/>
<circle cx="247" cy="511.8" r="2.15" fill="none" stroke="#000" stroke-width="0.9"/>
<circle cx="253.9" cy="511.8" r="2.15" fill="none" stroke="#000" stroke-width="0.9"/>
<circle cx="240" cy="516.1" r="2.15" fill="none" stroke="#000" stroke-width="0.9"/>
<circle cx="247" cy="516.1" r="2.15" fill="none" stroke="#000" stroke-width="0.9"/>
<circle cx="253.9" cy="516.1" r="2.15" fill="none" stroke="#000" stroke-width="0.9"/>
<circle cx="260.8" cy="516.1" r="2.15" fill="none" stroke="#000" stroke-width="0.9"/>
<circle cx="250.6" cy="523.3" r="2.15" fill="none" stroke="#000" stroke-width="0.9"/>
<circle cx="247" cy="527" r="2.15" fill="none" stroke="#000" stroke-width="0.9"/>
<circle cx="253.9" cy="527" r="2.15" fill="none" stroke="#000" stroke-width="0.9"/>
<circle cx="240.3" cy="530.6" r="2.15" fill="none" stroke="#000" stroke-width="0.9"/>
<circle cx="247" cy="530.6" r="2.15" fill="none" stroke="#000" stroke-width="0.9"/>
<circle cx="253.9" cy="530.6" r="2.15" fill="none" stroke="#000" stroke-width="0.9"/>
<circle cx="260.8" cy="530.6" r="2.15" fill="none" stroke="#000" stroke-width="0.9"/>
<circle cx="243.5" cy="534.4" r="2.15" fill="none" stroke="#000" stroke-width="0.9"/>
<circle cx="257.5" cy="534.4" r="2.15" fill="none" stroke="#000" stroke-width="0.9"/>
<circle cx="250.6" cy="537.6" r="2.15" fill="none" stroke="#000" stroke-width="0.9"/>
<circle cx="229.7" cy="541.7" r="2.15" fill="none" stroke="#000" stroke-width="0.9"/>
<circle cx="236.6" cy="541.7" r="2.15" fill="none" stroke="#000" stroke-width="0.9"/>
<circle cx="264.3" cy="541.7" r="2.15" fill="none" stroke="#000" stroke-width="0.9"/>
<circle cx="271.2" cy="541.7" r="2.15" fill="none" stroke="#000" stroke-width="0.9"/>
<circle cx="243.5" cy="545.3" r="2.15" fill="none" stroke="#000" stroke-width="0.9"/>
<circle cx="250.6" cy="545.3" r="2.15" fill="none" stroke="#000" stroke-width="0.9"/>
<circle cx="257.5" cy="545.3" r="2.15" fill="none" stroke="#000" stroke-width="0.9"/>
<circle cx="250.6" cy="552.3" r="2.15" fill="none" stroke="#000" stroke-width="0.9"/>
<circle cx="229.7" cy="558.3" r="2.15" fill="none" stroke="#000" stroke-width="0.9"/>
<circle cx="236.6" cy="558.3" r="2.15" fill="none" stroke="#000" stroke-width="0.9"/>
<circle cx="243.5" cy="558.3" r="2.15" fill="none" stroke="#000" stroke-width="0.9"/>
<circle cx="271.2" cy="558.3" r="2.15" fill="none" stroke="#000" stroke-width="0.9"/>
<circle cx="250.6" cy="561.2" r="2.15" fill="none" stroke="#000" stroke-width="0.9"/>
<circle cx="257.5" cy="561.2" r="2.15" fill="none" stroke="#000" stroke-width="0.9"/>
<circle cx="247" cy="565.6" r="2.15" fill="none" stroke="#000" stroke-width="0.9"/>
<circle cx="253.9" cy="565.6" r="2.15" fill="none" stroke="#000" stroke-width="0.9"/>
<circle cx="257.5" cy="570.2" r="2.15" fill="none" stroke="#000" stroke-width="0.9"/>
<circle cx="250.6" cy="572.6" r="2.15" fill="none" stroke="#000" stroke-width="0.9"/>
<circle cx="243.5" cy="593.2" r="2.15" fill="none" stroke="#000" stroke-width="0.9"/>
<circle cx="250.6" cy="593.2" r="2.15" fill="none" stroke="#000" stroke-width="0.9"/>
<circle cx="257.5" cy="593.2" r="2.15" fill="none" stroke="#000" stroke-width="0.9"/>
<circle cx="250.6" cy="602.9" r="2.15" fill="none" stroke="#000" stroke-width="0.9"/>
<line x1="66.5" y1="626.7" x2="69.5" y2="626.7" stroke="#1a1a1a" stroke-width="1.2"/>
<line x1="67.9" y1="623.14" x2="69.5" y2="623.14" stroke="#1a1a1a" stroke-width="1.2"/>
<line x1="67.9" y1="619.58" x2="69.5" y2="619.58" stroke="#1a1a1a" stroke-width="1.2"/>
<line x1="67.9" y1="616.02" x2="69.5" y2="616.02" stroke="#1a1a1a" stroke-width="1.2"/>
<line x1="67.9" y1="612.46" x2="69.5" y2="612.46" stroke="#1a1a1a" stroke-width="1.2"/>
<line x1="67.9" y1="608.9" x2="69.5" y2="608.9" stroke="#1a1a1a" stroke-width="1.2"/>
<line x1="67.9" y1="605.34" x2="69.5" y2="605.34" stroke="#1a1a1a" stroke-width="1.2"/>
<line x1="67.9" y1="601.78" x2="69.5" y2="601.78" stroke="#1a1a1a" stroke-width="1.2"/>
<line x1="67.9" y1="598.22" x2="69.5" y2="598.22" stroke="#1a1a1a" stroke-width="1.2"/>
<line x1="67.9" y1="594.66" x2="69.5" y2="594.66" stroke="#1a1a1a" stroke-width="1.2"/>
<line x1="66.5" y1="591.1" x2="69.5" y2="591.1" stroke="#1a1a1a" stroke-width="1.2"/>
<line x1="67.9" y1="587.54" x2="69.5" y2="587.54" stroke="#1a1a1a" stroke-width="1.2"/>
<line x1="67.9" y1="583.98" x2="69.5" y2="583.98" stroke="#1a1a1a" stroke-width="1.2"/>
<line x1="67.9" y1="580.42" x2="69.5" y2="580.42" stroke="#1a1a1a" stroke-width="1.2"/>
<line x1="67.9" y1="576.86" x2="69.5" y2="576.86" stroke="#1a1a1a" stroke-width="1.2"/>
<line x1="67.9" y1="573.3" x2="69.5" y2="573.3" stroke="#1a1a1a" stroke-width="1.2"/>
<line x1="67.9" y1="569.74" x2="69.5" y2="569.74" stroke="#1a1a1a" stroke-width="1.2"/>
<line x1="67.9" y1="566.18" x2="69.5" y2="566.18" stroke="#1a1a1a" stroke-width="1.2"/>
<line x1="67.9" y1="562.62" x2="69.5" y2="562.62" stroke="#1a1a1a" stroke-width="1.2"/>
<line x1="67.9" y1="559.06" x2="69.5" y2="559.06" stroke="#1a1a1a" stroke-width="1.2"/>
<line x1="66.5" y1="555.5" x2="69.5" y2="555.5" stroke="#1a1a1a" stroke-width="1.2"/>
<line x1="67.9" y1="551.94" x2="69.5" y2="551.94" stroke="#1a1a1a" stroke-width="1.2"/>
<line x1="67.9" y1="548.38" x2="69.5" y2="548.38" stroke="#1a1a1a" stroke-width="1.2"/>
<line x1="67.9" y1="544.82" x2="69.5" y2="544.82" stroke="#1a1a1a" stroke-width="1.2"/>
<line x1="67.9" y1="541.26" x2="69.5" y2="541.26" stroke="#1a1a1a" stroke-width="1.2"/>
<line x1="67.9" y1="537.7" x2="69.5" y2="537.7" stroke="#1a1a1a" stroke-width="1.2"/>
<line x1="67.9" y1="534.14" x2="69.5" y2="534.14" stroke="#1a1a1a" stroke-width="1.2"/>
<line x1="67.9" y1="530.58" x2="69.5" y2="530.58" stroke="#1a1a1a" stroke-width="1.2"/>
<line x1="67.9" y1="527.02" x2="69.5" y2="527.02" stroke="#1a1a1a" stroke-width="1.2"/>
<line x1="67.9" y1="523.46" x2="69.5" y2="523.46" stroke="#1a1a1a" stroke-width="1.2"/>
<line x1="66.5" y1="519.9" x2="69.5" y2="519.9" stroke="#1a1a1a" stroke-width="1.2"/>
<line x1="67.9" y1="516.34" x2="69.5" y2="516.34" stroke="#1a1a1a" stroke-width="1.2"/>
<line x1="67.9" y1="512.78" x2="69.5" y2="512.78" stroke="#1a1a1a" stroke-width="1.2"/>
<line x1="67.9" y1="509.22" x2="69.5" y2="509.22" stroke="#1a1a1a" stroke-width="1.2"/>
<line x1="67.9" y1="505.66" x2="69.5" y2="505.66" stroke="#1a1a1a" stroke-width="1.2"/>
<line x1="67.9" y1="502.1" x2="69.5" y2="502.1" stroke="#1a1a1a" stroke-width="1.2"/>
<line x1="67.9" y1="498.54" x2="69.5" y2="498.54" stroke="#1a1a1a" stroke-width="1.2"/>
<line x1="67.9" y1="494.98" x2="69.5" y2="494.98" stroke="#1a1a1a" stroke-width="1.2"/>
<line x1="67.9" y1="491.42" x2="69.5" y2="491.42" stroke="#1a1a1a" stroke-width="1.2"/>
<line x1="67.9" y1="487.86" x2="69.5" y2="487.86" stroke="#1a1a1a" stroke-width="1.2"/>
<line x1="66.5" y1="484.3" x2="69.5" y2="484.3" stroke="#1a1a1a" stroke-width="1.2"/>
<line x1="67.9" y1="480.74" x2="69.5" y2="480.74" stroke="#1a1a1a" stroke-width="1.2"/>
<line x1="67.9" y1="477.18" x2="69.5" y2="477.18" stroke="#1a1a1a" stroke-width="1.2"/>
<line x1="67.9" y1="473.62" x2="69.5" y2="473.62" stroke="#1a1a1a" stroke-width="1.2"/>
<line x1="67.9" y1="470.06" x2="69.5" y2="470.06" stroke="#1a1a1a" stroke-width="1.2"/>
<line x1="67.9" y1="466.5" x2="69.5" y2="466.5" stroke="#1a1a1a" stroke-width="1.2"/>
<line x1="67.9" y1="462.94" x2="69.5" y2="462.94" stroke="#1a1a1a" stroke-width="1.2"/>
<line x1="67.9" y1="459.38" x2="69.5" y2="459.38" stroke="#1a1a1a" stroke-width="1.2"/>
<line x1="67.9" y1="455.82" x2="69.5" y2="455.82" stroke="#1a1a1a" stroke-width="1.2"/>
<line x1="67.9" y1="452.26" x2="69.5" y2="452.26" stroke="#1a1a1a" stroke-width="1.2"/>
<line x1="66.5" y1="448.7" x2="69.5" y2="448.7" stroke="#1a1a1a" stroke-width="1.2"/>
<line x1="67.9" y1="445.14" x2="69.5" y2="445.14" stroke="#1a1a1a" stroke-width="1.2"/>
<line x1="67.9" y1="441.58" x2="69.5" y2="441.58" stroke="#1a1a1a" stroke-width="1.2"/>
<line x1="67.9" y1="438.02" x2="69.5" y2="438.02" stroke="#1a1a1a" stroke-width="1.2"/>
<line x1="67.9" y1="434.46" x2="69.5" y2="434.46" stroke="#1a1a1a" stroke-width="1.2"/>
<line x1="67.9" y1="430.9" x2="69.5" y2="430.9" stroke="#1a1a1a" stroke-width="1.2"/>
<line x1="67.9" y1="427.34" x2="69.5" y2="427.34" stroke="#1a1a1a" stroke-width="1.2"/>
<line x1="67.9" y1="423.78" x2="69.5" y2="423.78" stroke="#1a1a1a" stroke-width="1.2"/>
<line x1="67.9" y1="420.22" x2="69.5" y2="420.22" stroke="#1a1a1a" stroke-width="1.2"/>
<line x1="67.9" y1="416.66" x2="69.5" y2="416.66" stroke="#1a1a1a" stroke-width="1.2"/>
<line x1="66.5" y1="413.1" x2="69.5" y2="413.1" stroke="#1a1a1a" stroke-width="1.2"/>
<line x1="69.5" y1="413.1" x2="69.5" y2="626.7" stroke="#aaa" stroke-width="1.3"/>
<text x="65.2" y="417.9" font-size="12" font-weight="normal" text-anchor="end" fill="#333" >3</text>
<text x="65.2" y="453.5" font-size="12" font-weight="normal" text-anchor="end" fill="#333" >2</text>
<text x="65.2" y="489.1" font-size="12" font-weight="normal" text-anchor="end" fill="#333" >1</text>
<text x="65.2" y="524.7" font-size="12" font-weight="normal" text-anchor="end" fill="#333" >0</text>
<text x="65.2" y="560.3" font-size="12" font-weight="normal" text-anchor="end" fill="#333" >-1</text>
<text x="65.2" y="595.9" font-size="12" font-weight="normal" text-anchor="end" fill="#333" >-2</text>
<text x="65.2" y="631.5" font-size="12" font-weight="normal" text-anchor="end" fill="#333" >-3</text>
<line x1="66.3" y1="626.7" x2="295.4" y2="626.7" stroke="#777" stroke-width="1.7"/>
<line x1="115" y1="626.7" x2="115" y2="629.7" stroke="#555" stroke-width="1"/>
<line x1="182.6" y1="626.7" x2="182.6" y2="629.7" stroke="#555" stroke-width="1"/>
<line x1="250.6" y1="626.7" x2="250.6" y2="629.7" stroke="#555" stroke-width="1"/>
<polyline points="115.1,482 115.1,426.6 250.6,426.6 250.6,431.3" fill="none" stroke="#222" stroke-width="1.2"/>
<text x="182.7" y="421.6" font-size="11.3" font-weight="normal" text-anchor="middle" fill="#222" letter-spacing="0.35">q = 0.0207</text>
<text transform="translate(47.6,516.1) rotate(-90)" font-size="15.12" font-weight="bold" text-anchor="middle" fill="#111">TAP #1 - phasic alertness (z-score)</text>
<text transform="translate(121.2,645.3) rotate(-45)" font-size="16.5" font-weight="bold" text-anchor="end" fill="#111">HC (total)</text>
<text transform="translate(188.8,645.3) rotate(-45)" font-size="16.5" font-weight="bold" text-anchor="end" fill="#111">Non-PCS (total)</text>
<text transform="translate(256.8,645.3) rotate(-45)" font-size="16.5" font-weight="bold" text-anchor="end" fill="#111">PCS (total)</text>
<line x1="438.8" y1="542.2" x2="665.7" y2="542.2" stroke="#777" stroke-width="1.1"/>
<rect x="464.4" y="542.2" width="45.4" height="17.6" fill="#d6d6d6" stroke="none" stroke-width="0"/>
<line x1="464.4" y1="542.2" x2="464.4" y2="559.8" stroke="#777" stroke-width="1.0"/>
<line x1="509.8" y1="542.2" x2="509.8" y2="559.8" stroke="#777" stroke-width="1.0"/>
<line x1="464.4" y1="559.8" x2="509.8" y2="559.8" stroke="#777" stroke-width="1.0"/>
<line x1="487.1" y1="537.4" x2="487.1" y2="559.8" stroke="#999" stroke-width="1.0"/>
<line x1="487.1" y1="559.8" x2="487.1" y2="583.2" stroke="#999" stroke-width="1.0"/>
<line x1="476.1" y1="537.4" x2="498" y2="537.4" stroke="#555" stroke-width="1.2"/>
<line x1="476.1" y1="583.2" x2="498" y2="583.2" stroke="#555" stroke-width="1.2"/>
<circle cx="487.1" cy="521" r="2.35" fill="none" stroke="#000" stroke-width="0.9"/>
<circle cx="483.4" cy="533.4" r="2.35" fill="none" stroke="#000" stroke-width="0.9"/>
<circle cx="490.4" cy="533.4" r="2.35" fill="none" stroke="#000" stroke-width="0.9"/>
<circle cx="487.1" cy="538.5" r="2.35" fill="none" stroke="#000" stroke-width="0.9"/>
<circle cx="487.1" cy="550.2" r="2.35" fill="none" stroke="#000" stroke-width="0.9"/>
<circle cx="483.4" cy="555.1" r="2.35" fill="none" stroke="#000" stroke-width="0.9"/>
<circle cx="490.4" cy="555.1" r="2.35" fill="none" stroke="#000" stroke-width="0.9"/>
<circle cx="487.1" cy="557.1" r="2.35" fill="none" stroke="#000" stroke-width="0.9"/>
<circle cx="483.4" cy="559.8" r="2.35" fill="none" stroke="#000" stroke-width="0.9"/>
<circle cx="490.4" cy="559.8" r="2.35" fill="none" stroke="#000" stroke-width="0.9"/>
<circle cx="487.1" cy="563.4" r="2.35" fill="none" stroke="#000" stroke-width="0.9"/>
<circle cx="487.1" cy="576.3" r="2.35" fill="none" stroke="#000" stroke-width="0.9"/>
<circle cx="490.4" cy="581" r="2.35" fill="none" stroke="#000" stroke-width="0.9"/>
<circle cx="483.4" cy="584.3" r="2.35" fill="none" stroke="#000" stroke-width="0.9"/>
<circle cx="487.1" cy="588.3" r="2.35" fill="none" stroke="#000" stroke-width="0.9"/>
<circle cx="487.1" cy="601.8" r="2.35" fill="none" stroke="#000" stroke-width="0.9"/>
<rect x="532" y="542.2" width="43.9" height="20" fill="#aadcaa" stroke="none" stroke-width="0"/>
<line x1="532" y1="542.2" x2="532" y2="562.2" stroke="#7a9a7a" stroke-width="1.0"/>
<line x1="575.9" y1="542.2" x2="575.9" y2="562.2" stroke="#7a9a7a" stroke-width="1.0"/>
<line x1="532" y1="562.2" x2="575.9" y2="562.2" stroke="#7a9a7a" stroke-width="1.0"/>
<line x1="554" y1="536" x2="554" y2="562.2" stroke="#888" stroke-width="1.0"/>
<line x1="554" y1="562.2" x2="554" y2="589.3" stroke="#999" stroke-width="1.0"/>
<line x1="543.3" y1="536" x2="565" y2="536" stroke="#bbb" stroke-width="1.2"/>
<line x1="543.3" y1="589.3" x2="565" y2="589.3" stroke="#999" stroke-width="1.2"/>
<circle cx="554" cy="516.1" r="2.35" fill="none" stroke="#000" stroke-width="0.9"/>
<circle cx="554" cy="524.6" r="2.35" fill="none" stroke="#000" stroke-width="0.9"/>
<circle cx="550.6" cy="537.8" r="2.35" fill="none" stroke="#000" stroke-width="0.9"/>
<circle cx="557.6" cy="537.8" r="2.35" fill="none" stroke="#000" stroke-width="0.9"/>
<circle cx="550.6" cy="554.3" r="2.35" fill="none" stroke="#000" stroke-width="0.9"/>
<circle cx="557.6" cy="554.3" r="2.35" fill="none" stroke="#000" stroke-width="0.9"/>
<circle cx="550.6" cy="559.5" r="2.35" fill="none" stroke="#000" stroke-width="0.9"/>
<circle cx="557.6" cy="559.5" r="2.35" fill="none" stroke="#000" stroke-width="0.9"/>
<circle cx="554" cy="568.2" r="2.35" fill="none" stroke="#000" stroke-width="0.9"/>
<circle cx="547" cy="572.2" r="2.35" fill="none" stroke="#000" stroke-width="0.9"/>
<circle cx="554" cy="572.2" r="2.35" fill="none" stroke="#000" stroke-width="0.9"/>
<circle cx="560.9" cy="572.2" r="2.35" fill="none" stroke="#000" stroke-width="0.9"/>
<circle cx="547" cy="601.8" r="2.35" fill="none" stroke="#000" stroke-width="0.9"/>
<circle cx="554" cy="601.8" r="2.35" fill="none" stroke="#000" stroke-width="0.9"/>
<circle cx="560.9" cy="601.8" r="2.35" fill="none" stroke="#000" stroke-width="0.9"/>
<rect x="598.5" y="534.7" width="44.9" height="7.5" fill="#fdbf80" stroke="none" stroke-width="0"/>
<line x1="598.5" y1="534.7" x2="598.5" y2="542.2" stroke="#8a6a50" stroke-width="1.0"/>
<line x1="643.4" y1="534.7" x2="643.4" y2="542.2" stroke="#8a6a50" stroke-width="1.0"/>
<line x1="598.5" y1="534.7" x2="643.4" y2="534.7" stroke="#8a6a50" stroke-width="1.0"/>
<line x1="621" y1="578.2" x2="621" y2="534.7" stroke="#999" stroke-width="1.8"/>
<line x1="621" y1="534.7" x2="621" y2="491.2" stroke="#999" stroke-width="1.8"/>
<line x1="610" y1="491.2" x2="632" y2="491.2" stroke="#444" stroke-width="1.2"/>
<line x1="610" y1="578.2" x2="632" y2="578.2" stroke="#999" stroke-width="1.2"/>
<circle cx="614.2" cy="443.6" r="2.35" fill="none" stroke="#000" stroke-width="0.9"/>
<circle cx="621" cy="443.6" r="2.35" fill="none" stroke="#000" stroke-width="0.9"/>
<circle cx="627.8" cy="443.6" r="2.35" fill="none" stroke="#000" stroke-width="0.9"/>
<circle cx="621" cy="455.2" r="2.35" fill="none" stroke="#000" stroke-width="0.9"/>
<circle cx="621" cy="472.5" r="2.35" fill="none" stroke="#000" stroke-width="0.9"/>
<circle cx="621" cy="479.5" r="2.35" fill="none" stroke="#000" stroke-width="0.9"/>
<circle cx="617.5" cy="500" r="2.35" fill="none" stroke="#000" stroke-width="0.9"/>
<circle cx="624.4" cy="503.2" r="2.35" fill="none" stroke="#000" stroke-width="0.9"/>
<circle cx="621" cy="512" r="2.35" fill="none" stroke="#000" stroke-width="0.9"/>
<circle cx="614.2" cy="516.1" r="2.35" fill="none" stroke="#000" stroke-width="0.9"/>
<circle cx="621" cy="516.1" r="2.35" fill="none" stroke="#000" stroke-width="0.9"/>
<circle cx="627.8" cy="516.1" r="2.35" fill="none" stroke="#000" stroke-width="0.9"/>
<circle cx="617.5" cy="521.2" r="2.35" fill="none" stroke="#000" stroke-width="0.9"/>
<circle cx="624.4" cy="521.2" r="2.35" fill="none" stroke="#000" stroke-width="0.9"/>
<circle cx="621" cy="529.1" r="2.35" fill="none" stroke="#000" stroke-width="0.9"/>
<circle cx="617.5" cy="533.6" r="2.35" fill="none" stroke="#000" stroke-width="0.9"/>
<circle cx="624.4" cy="533.6" r="2.35" fill="none" stroke="#000" stroke-width="0.9"/>
<circle cx="621" cy="537.9" r="2.35" fill="none" stroke="#000" stroke-width="0.9"/>
<circle cx="617.5" cy="542.3" r="2.35" fill="none" stroke="#000" stroke-width="0.9"/>
<circle cx="624.4" cy="542.3" r="2.35" fill="none" stroke="#000" stroke-width="0.9"/>
<circle cx="621" cy="546.4" r="2.35" fill="none" stroke="#000" stroke-width="0.9"/>
<circle cx="614.5" cy="550.8" r="2.35" fill="none" stroke="#000" stroke-width="0.9"/>
<circle cx="621" cy="550.8" r="2.35" fill="none" stroke="#000" stroke-width="0.9"/>
<circle cx="628.1" cy="550.8" r="2.35" fill="none" stroke="#000" stroke-width="0.9"/>
<circle cx="614.5" cy="555.1" r="2.35" fill="none" stroke="#000" stroke-width="0.9"/>
<circle cx="621" cy="555.1" r="2.35" fill="none" stroke="#000" stroke-width="0.9"/>
<circle cx="628.1" cy="555.1" r="2.35" fill="none" stroke="#000" stroke-width="0.9"/>
<circle cx="621" cy="559.2" r="2.35" fill="none" stroke="#000" stroke-width="0.9"/>
<circle cx="621" cy="563.2" r="2.35" fill="none" stroke="#000" stroke-width="0.9"/>
<circle cx="621" cy="568" r="2.35" fill="none" stroke="#000" stroke-width="0.9"/>
<circle cx="610.8" cy="576.1" r="2.35" fill="none" stroke="#000" stroke-width="0.9"/>
<circle cx="617.5" cy="576.1" r="2.35" fill="none" stroke="#000" stroke-width="0.9"/>
<circle cx="624.4" cy="576.1" r="2.35" fill="none" stroke="#000" stroke-width="0.9"/>
<circle cx="631.4" cy="576.1" r="2.35" fill="none" stroke="#000" stroke-width="0.9"/>
<circle cx="621" cy="584.1" r="2.35" fill="none" stroke="#000" stroke-width="0.9"/>
<circle cx="621" cy="596.1" r="2.35" fill="none" stroke="#000" stroke-width="0.9"/>
<circle cx="617.5" cy="601.3" r="2.35" fill="none" stroke="#000" stroke-width="0.9"/>
<circle cx="624.4" cy="601.3" r="2.35" fill="none" stroke="#000" stroke-width="0.9"/>
<line x1="438.8" y1="627.4" x2="442.3" y2="627.4" stroke="#1a1a1a" stroke-width="1.2"/>
<line x1="440.3" y1="623.14" x2="442.3" y2="623.14" stroke="#1a1a1a" stroke-width="1.2"/>
<line x1="440.3" y1="618.88" x2="442.3" y2="618.88" stroke="#1a1a1a" stroke-width="1.2"/>
<line x1="440.3" y1="614.62" x2="442.3" y2="614.62" stroke="#1a1a1a" stroke-width="1.2"/>
<line x1="440.3" y1="610.36" x2="442.3" y2="610.36" stroke="#1a1a1a" stroke-width="1.2"/>
<line x1="440.3" y1="606.1" x2="442.3" y2="606.1" stroke="#1a1a1a" stroke-width="1.2"/>
<line x1="440.3" y1="601.84" x2="442.3" y2="601.84" stroke="#1a1a1a" stroke-width="1.2"/>
<line x1="440.3" y1="597.58" x2="442.3" y2="597.58" stroke="#1a1a1a" stroke-width="1.2"/>
<line x1="440.3" y1="593.32" x2="442.3" y2="593.32" stroke="#1a1a1a" stroke-width="1.2"/>
<line x1="440.3" y1="589.06" x2="442.3" y2="589.06" stroke="#1a1a1a" stroke-width="1.2"/>
<line x1="438.8" y1="584.8" x2="442.3" y2="584.8" stroke="#1a1a1a" stroke-width="1.2"/>
<line x1="440.3" y1="580.54" x2="442.3" y2="580.54" stroke="#1a1a1a" stroke-width="1.2"/>
<line x1="440.3" y1="576.28" x2="442.3" y2="576.28" stroke="#1a1a1a" stroke-width="1.2"/>
<line x1="440.3" y1="572.02" x2="442.3" y2="572.02" stroke="#1a1a1a" stroke-width="1.2"/>
<line x1="440.3" y1="567.76" x2="442.3" y2="567.76" stroke="#1a1a1a" stroke-width="1.2"/>
<line x1="440.3" y1="563.5" x2="442.3" y2="563.5" stroke="#1a1a1a" stroke-width="1.2"/>
<line x1="440.3" y1="559.24" x2="442.3" y2="559.24" stroke="#1a1a1a" stroke-width="1.2"/>
<line x1="440.3" y1="554.98" x2="442.3" y2="554.98" stroke="#1a1a1a" stroke-width="1.2"/>
<line x1="440.3" y1="550.72" x2="442.3" y2="550.72" stroke="#1a1a1a" stroke-width="1.2"/>
<line x1="440.3" y1="546.46" x2="442.3" y2="546.46" stroke="#1a1a1a" stroke-width="1.2"/>
<line x1="438.8" y1="542.2" x2="442.3" y2="542.2" stroke="#1a1a1a" stroke-width="1.2"/>
<line x1="440.3" y1="537.94" x2="442.3" y2="537.94" stroke="#1a1a1a" stroke-width="1.2"/>
<line x1="440.3" y1="533.68" x2="442.3" y2="533.68" stroke="#1a1a1a" stroke-width="1.2"/>
<line x1="440.3" y1="529.42" x2="442.3" y2="529.42" stroke="#1a1a1a" stroke-width="1.2"/>
<line x1="440.3" y1="525.16" x2="442.3" y2="525.16" stroke="#1a1a1a" stroke-width="1.2"/>
<line x1="440.3" y1="520.9" x2="442.3" y2="520.9" stroke="#1a1a1a" stroke-width="1.2"/>
<line x1="440.3" y1="516.64" x2="442.3" y2="516.64" stroke="#1a1a1a" stroke-width="1.2"/>
<line x1="440.3" y1="512.38" x2="442.3" y2="512.38" stroke="#1a1a1a" stroke-width="1.2"/>
<line x1="440.3" y1="508.12" x2="442.3" y2="508.12" stroke="#1a1a1a" stroke-width="1.2"/>
<line x1="440.3" y1="503.86" x2="442.3" y2="503.86" stroke="#1a1a1a" stroke-width="1.2"/>
<line x1="438.8" y1="499.6" x2="442.3" y2="499.6" stroke="#1a1a1a" stroke-width="1.2"/>
<line x1="440.3" y1="495.34" x2="442.3" y2="495.34" stroke="#1a1a1a" stroke-width="1.2"/>
<line x1="440.3" y1="491.08" x2="442.3" y2="491.08" stroke="#1a1a1a" stroke-width="1.2"/>
<line x1="440.3" y1="486.82" x2="442.3" y2="486.82" stroke="#1a1a1a" stroke-width="1.2"/>
<line x1="440.3" y1="482.56" x2="442.3" y2="482.56" stroke="#1a1a1a" stroke-width="1.2"/>
<line x1="440.3" y1="478.3" x2="442.3" y2="478.3" stroke="#1a1a1a" stroke-width="1.2"/>
<line x1="440.3" y1="474.04" x2="442.3" y2="474.04" stroke="#1a1a1a" stroke-width="1.2"/>
<line x1="440.3" y1="469.78" x2="442.3" y2="469.78" stroke="#1a1a1a" stroke-width="1.2"/>
<line x1="440.3" y1="465.52" x2="442.3" y2="465.52" stroke="#1a1a1a" stroke-width="1.2"/>
<line x1="440.3" y1="461.26" x2="442.3" y2="461.26" stroke="#1a1a1a" stroke-width="1.2"/>
<line x1="438.8" y1="457" x2="442.3" y2="457" stroke="#1a1a1a" stroke-width="1.2"/>
<line x1="440.3" y1="452.74" x2="442.3" y2="452.74" stroke="#1a1a1a" stroke-width="1.2"/>
<line x1="440.3" y1="448.48" x2="442.3" y2="448.48" stroke="#1a1a1a" stroke-width="1.2"/>
<line x1="440.3" y1="444.22" x2="442.3" y2="444.22" stroke="#1a1a1a" stroke-width="1.2"/>
<line x1="440.3" y1="439.96" x2="442.3" y2="439.96" stroke="#1a1a1a" stroke-width="1.2"/>
<line x1="440.3" y1="435.7" x2="442.3" y2="435.7" stroke="#1a1a1a" stroke-width="1.2"/>
<line x1="440.3" y1="431.44" x2="442.3" y2="431.44" stroke="#1a1a1a" stroke-width="1.2"/>
<line x1="440.3" y1="427.18" x2="442.3" y2="427.18" stroke="#1a1a1a" stroke-width="1.2"/>
<line x1="440.3" y1="422.92" x2="442.3" y2="422.92" stroke="#1a1a1a" stroke-width="1.2"/>
<line x1="440.3" y1="418.66" x2="442.3" y2="418.66" stroke="#1a1a1a" stroke-width="1.2"/>
<line x1="438.8" y1="414.4" x2="442.3" y2="414.4" stroke="#1a1a1a" stroke-width="1.2"/>
<line x1="442.3" y1="414.4" x2="442.3" y2="627.4" stroke="#222" stroke-width="1.4"/>
<text x="438" y="419.2" font-size="12" font-weight="normal" text-anchor="end" fill="#333" >3</text>
<text x="438" y="461.8" font-size="12" font-weight="normal" text-anchor="end" fill="#333" >2</text>
<text x="438" y="504.4" font-size="12" font-weight="normal" text-anchor="end" fill="#333" >1</text>
<text x="438" y="547" font-size="12" font-weight="normal" text-anchor="end" fill="#333" >0</text>
<text x="438" y="589.6" font-size="12" font-weight="normal" text-anchor="end" fill="#333" >-1</text>
<text x="438" y="632.2" font-size="12" font-weight="normal" text-anchor="end" fill="#333" >-2</text>
<line x1="438.8" y1="626.9" x2="665.7" y2="626.9" stroke="#7a7a7a" stroke-width="1.5"/>
<line x1="487.1" y1="627.4" x2="487.1" y2="630.4" stroke="#555" stroke-width="1"/>
<line x1="554" y1="627.4" x2="554" y2="630.4" stroke="#555" stroke-width="1"/>
<line x1="621" y1="627.4" x2="621" y2="630.4" stroke="#555" stroke-width="1"/>
<text transform="translate(422.3,517.3) rotate(-90)" font-size="14.35" font-weight="bold" text-anchor="middle" fill="#111">TAP #2 - phasic alertness (z-score)</text>
<text transform="translate(491.1,641.4) rotate(-45)" font-size="12.3" font-weight="bold" text-anchor="end" fill="#111">HC (total)</text>
<text transform="translate(558,641.4) rotate(-45)" font-size="12.3" font-weight="bold" text-anchor="end" fill="#111">Non-PCS (total)</text>
<text transform="translate(625,641.4) rotate(-45)" font-size="12.3" font-weight="bold" text-anchor="end" fill="#111">PCS (total)</text>
</svg>
</body></html>
